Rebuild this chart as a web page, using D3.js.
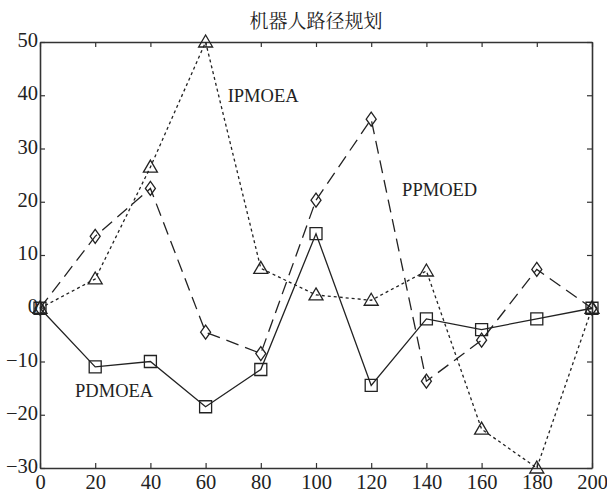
<!DOCTYPE html>
<html>
<head>
<meta charset="utf-8">
<script src="https://cdn.jsdelivr.net/npm/d3@7"></script>
<style>
  body { margin: 0; background: #fff; }
  svg text { font-family: "Liberation Serif", "Times New Roman", serif; fill: #222; }
</style>
</head>
<body>
<svg id="chart" width="607" height="493"></svg>
<script>
// data
var xs = [0, 20, 40, 60, 80, 100, 120, 140, 160, 180, 200];
var ipmoea = [0, 5.5, 26.5, 50, 7.5, 2.5, 1.5, 7, -22.7, -30, 0];
var ppmoed = [0, 13.5, 22.5, -4.5, -8.5, 20.3, 35.5, -13.7, -6, 7.3, 0];
var pdmoea = [0, -11, -10, -18.5, -11.5, 14, -14.5, -2, -4, -2, 0];
var xTicks = [0, 20, 40, 60, 80, 100, 120, 140, 160, 180, 200];
var yTicks = [-30, -20, -10, 0, 10, 20, 30, 40, 50];

var margin = {top: 42, right: 15, bottom: 25, left: 40},
    width = 607 - margin.left - margin.right,
    height = 493 - margin.top - margin.bottom;

var svg = d3.select("#chart");
var g = svg.append("g")
    .attr("transform", "translate(" + margin.left + "," + margin.top + ")");

var x = d3.scaleLinear().domain([0, 200]).range([0, width]);
var y = d3.scaleLinear().domain([-30, 50]).range([height, 0]);

// axes, ticks pointing inward on all four sides
var tickLen = 5;
g.append("g")
    .attr("transform", "translate(0," + height + ")")
    .call(d3.axisBottom(x).tickValues(xTicks).tickSizeInner(-tickLen).tickSizeOuter(0))
    .call(styleAxis)
    .selectAll("text").attr("dy", "0.75em").attr("y", 6);
g.append("g")
    .call(d3.axisTop(x).tickValues(xTicks).tickSizeInner(-tickLen).tickSizeOuter(0).tickFormat(""))
    .call(styleAxis);
g.append("g")
    .call(d3.axisLeft(y).tickValues(yTicks).tickSizeInner(-tickLen).tickSizeOuter(0).tickPadding(2))
    .call(styleAxis)
    .selectAll("text").attr("dy", "0.22em");
g.append("g")
    .attr("transform", "translate(" + width + ",0)")
    .call(d3.axisRight(y).tickValues(yTicks).tickSizeInner(-tickLen).tickSizeOuter(0).tickFormat(""))
    .call(styleAxis);

function styleAxis(sel) {
  sel.select(".domain").attr("stroke", "#333").attr("stroke-width", 1.6);
  sel.selectAll(".tick line").attr("stroke", "#333").attr("stroke-width", 1.2);
  sel.selectAll(".tick text").attr("font-size", 20.5)
      .attr("font-family", "'Liberation Serif', serif").attr("fill", "#222");
}

var line = d3.line()
    .x(function(d) { return x(d.x); })
    .y(function(d) { return y(d.y); });

function toPts(vals) {
  return xs.map(function(v, i) { return {x: v, y: vals[i]}; });
}

var series = [
  {name: "IPMOEA", vals: ipmoea, dash: "3,3", marker: "tri"},
  {name: "PPMOED", vals: ppmoed, dash: "13,7", marker: "dia"},
  {name: "PDMOEA", vals: pdmoea, dash: null, marker: "sq"}
];

series.forEach(function(s) {
  var pts = toPts(s.vals);
  g.append("path")
      .datum(pts)
      .attr("fill", "none")
      .attr("stroke", "#222")
      .attr("stroke-width", 1.3)
      .attr("stroke-dasharray", s.dash)
      .attr("d", line);

  var m = g.append("g").selectAll("path").data(pts).enter().append("path")
      .attr("fill", "none")
      .attr("stroke", "#222")
      .attr("stroke-width", 1.3)
      .attr("transform", function(d) { return "translate(" + x(d.x) + "," + y(d.y) + ")"; });
  if (s.marker == "tri") m.attr("d", "M0,-7L7,5L-7,5Z");
  if (s.marker == "sq") m.attr("d", "M-6,-6H6V6H-6Z");
  if (s.marker == "dia") m.attr("d", "M0,-7L5,0L0,7L-5,0Z");
});

// series labels placed in data space
var labels = [
  {text: "IPMOEA", x: 68, y: 38.7},
  {text: "PPMOED", x: 131.2, y: 21},
  {text: "PDMOEA", x: 12.7, y: -16.6}
];
g.selectAll(".lbl").data(labels).enter().append("text")
    .attr("class", "lbl")
    .attr("x", function(d) { return x(d.x); })
    .attr("y", function(d) { return y(d.y); })
    .attr("font-size", 18.5)
    .text(function(d) { return d.text; });

// title
svg.append("text")
    .attr("x", margin.left + width / 2)
    .attr("y", 28)
    .attr("text-anchor", "middle")
    .attr("font-size", 19)
    .style("font-family", "'Noto Serif CJK SC', 'Noto Sans CJK SC', serif")
    .text("机器人路径规划");
</script>
</body>
</html>
